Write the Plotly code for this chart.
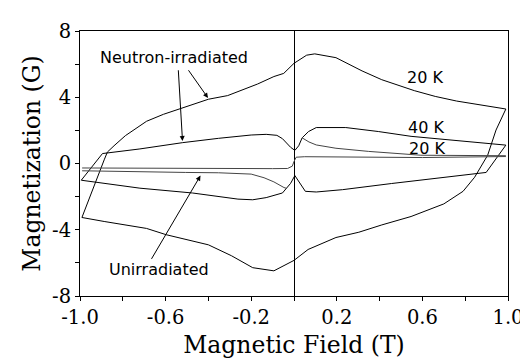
import plotly.graph_objects as go

# ---------------- data ----------------
# Neutron-irradiated, 20 K loop (upper branch, then lower branch)
irr20_up_x = [0.99, 0.88, 0.76, 0.66, 0.562, 0.41, 0.318, 0.196, 0.097, 0.059, 0.0, -0.048, -0.094,
              -0.17, -0.31, -0.40, -0.52, -0.61, -0.689, -0.788, -0.841, -0.872, -0.887, -0.918, -0.991]
irr20_up_y = [3.29, 3.52, 3.77, 4.05, 4.4, 5.06, 5.59, 6.39, 6.62, 6.54, 6.05, 5.44, 5.25,
              4.8, 4.1, 3.88, 3.35, 2.97, 2.55, 1.68, 1.07, 0.69, 0.22, -0.83, -3.26]
irr20_lo_x = [-0.991, -0.887, -0.689, -0.597, -0.40, -0.292, -0.193, -0.094, 0.0, 0.066, 0.196,
              0.303, 0.41, 0.547, 0.70, 0.79, 0.844, 0.905, 0.944, 0.99]
irr20_lo_y = [-3.26, -3.5, -3.92, -4.3, -4.91, -5.57, -6.29, -6.48, -5.85, -5.19, -4.47,
              -4.15, -3.71, -3.2, -2.44, -1.68, -0.83, 0.5, 2.02, 3.29]

# Neutron-irradiated, 40 K loop
irr40_up_x = [0.99, 0.776, 0.547, 0.394, 0.242, 0.104, 0.068, 0.038, 0.022, 0.004, -0.016, -0.054,
              -0.08, -0.13, -0.2, -0.353, -0.52, -0.72, -0.872, -0.895, -0.994]
irr40_up_y = [1.11, 1.36, 1.64, 1.93, 2.17, 2.17, 1.93, 1.55, 1.07, 0.79, 0.98, 1.5,
              1.7, 1.76, 1.72, 1.52, 1.26, 0.88, 0.65, 0.6, -1.01]
irr40_lo_x = [-0.994, -0.72, -0.475, -0.262, -0.193, -0.13, -0.054, -0.035, -0.016, 0.004, 0.022,
              0.053, 0.104, 0.227, 0.455, 0.776, 0.875, 0.898, 0.99]
irr40_lo_y = [-1.01, -1.49, -1.78, -2.15, -2.19, -2.06, -1.78, -1.5, -1.2, -0.73, -1.1,
              -1.68, -1.72, -1.58, -1.21, -0.7, -0.54, -0.54, 1.11]

# Unirradiated, 20 K
unirr_flat_x = [-0.99, -0.5, -0.1, -0.03, -0.008, 0.0, 0.01, 0.05, 0.3, 0.6, 0.99]
unirr_flat_y = [-0.27, -0.31, -0.31, -0.3, -0.16, 0.12, 0.38, 0.41, 0.38, 0.36, 0.42]
unirr_peak_r_x = [0.038, 0.07, 0.104, 0.196, 0.349, 0.593, 0.99]
unirr_peak_r_y = [1.55, 1.3, 1.12, 0.92, 0.73, 0.5, 0.47]
unirr_peak_l_x = [-0.035, -0.047, -0.094, -0.14, -0.2, -0.353, -0.506, -0.99]
unirr_peak_l_y = [-1.5, -1.45, -1.11, -0.86, -0.64, -0.56, -0.54, -0.44]

# axis ticks
x_tickvals = [-1.0, -0.8, -0.6, -0.4, -0.2, 0.0, 0.2, 0.4, 0.6, 0.8, 1.0]
x_ticktext = ["-1.0", "", "-0.6", "", "-0.2", "", "0.2", "", "0.6", "", "1.0"]
y_tickvals = [-8, -6, -4, -2, 0, 2, 4, 6, 8]
y_ticktext = ["-8", "", "-4", "", "0", "", "4", "", "8"]

# ---------------- figure ----------------
fig = go.Figure()
black = dict(color="black", width=1)
gray = dict(color="#444444", width=1)

fig.add_trace(go.Scatter(x=irr20_up_x + irr20_lo_x, y=irr20_up_y + irr20_lo_y,
                         mode="lines", line=black, showlegend=False))
fig.add_trace(go.Scatter(x=irr40_up_x + irr40_lo_x, y=irr40_up_y + irr40_lo_y,
                         mode="lines", line=black, showlegend=False))
fig.add_trace(go.Scatter(x=unirr_flat_x, y=unirr_flat_y, mode="lines", line=gray, showlegend=False))
fig.add_trace(go.Scatter(x=unirr_peak_r_x, y=unirr_peak_r_y, mode="lines", line=gray, showlegend=False))
fig.add_trace(go.Scatter(x=unirr_peak_l_x, y=unirr_peak_l_y, mode="lines", line=gray, showlegend=False))

label_font = dict(family="DejaVu Sans", size=16, color="black")

def text(x, y, s):
    fig.add_annotation(x=x, y=y, xref="x", yref="y", text=s, showarrow=False,
                       font=label_font, xanchor="center", yanchor="middle")

def arrow(x0, y0, x1, y1):
    fig.add_annotation(x=x1, y=y1, ax=x0, ay=y0, xref="x", yref="y", axref="x", ayref="y",
                       text="", showarrow=True, arrowhead=2, arrowsize=1, arrowwidth=1,
                       arrowcolor="black", standoff=0, startstandoff=0)

text(-0.561, 6.4, "Neutron-irradiated")
text(-0.629, -6.41, "Unirradiated")
text(0.611, 5.21, "20 K")
text(0.616, 2.18, "40 K")
text(0.62, 0.92, "20 K")

arrow(-0.498, 5.72, -0.402, 3.96)
arrow(-0.541, 5.72, -0.521, 1.36)
arrow(-0.670, -5.85, -0.437, -0.73)

tick_font = dict(family="DejaVu Serif", size=19.5, color="black")
title_font = dict(family="DejaVu Serif", size=23.5, color="black")

fig.update_xaxes(range=[-1, 1], tickvals=x_tickvals, ticktext=x_ticktext,
                 ticks="outside", ticklen=4, tickcolor="black", tickwidth=1,
                 showline=True, linecolor="black", linewidth=1, mirror=True,
                 showgrid=False, zeroline=True, zerolinecolor="black", zerolinewidth=1,
                 tickfont=tick_font,
                 title=dict(text="Magnetic Field (T)", font=title_font, standoff=8))
fig.update_yaxes(range=[-8, 8], tickvals=y_tickvals, ticktext=y_ticktext,
                 ticks="outside", ticklen=4, tickcolor="black", tickwidth=1,
                 showline=True, linecolor="black", linewidth=1, mirror=True,
                 showgrid=False, zeroline=False,
                 tickfont=tick_font,
                 title=dict(text="Magnetization (G)", font=title_font, standoff=4))

fig.update_layout(width=528, height=358, margin=dict(l=72, r=19, t=15, b=62),
                  plot_bgcolor="white", paper_bgcolor="white")

fig.write_html("out.html")
